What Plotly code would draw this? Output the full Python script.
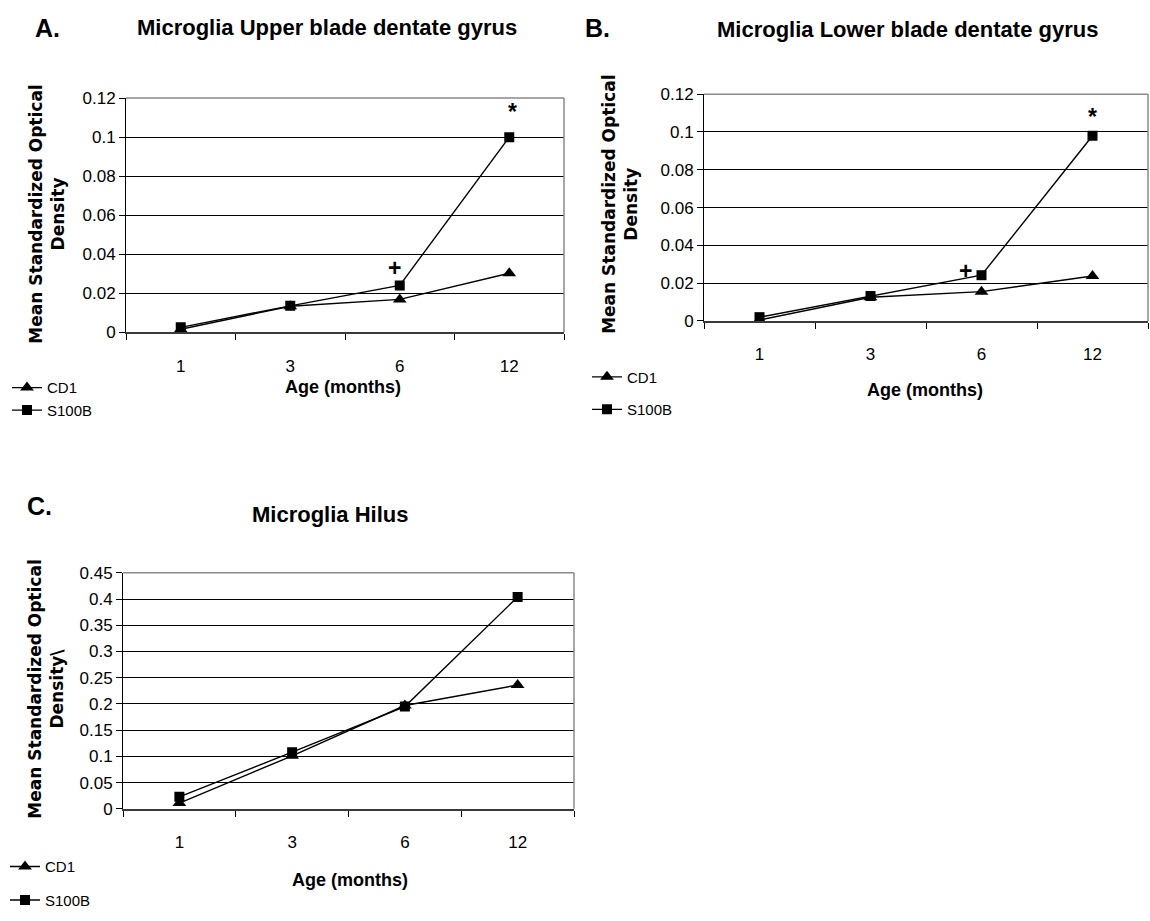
import plotly.graph_objects as go

# Age groups (months) shown on every x axis
ages = ["1", "3", "6", "12"]

# Mean standardized optical density per panel and strain
upper_cd1 = [0.0015, 0.0133, 0.0168, 0.0302]
upper_s100b = [0.0025, 0.0135, 0.0240, 0.1000]
lower_cd1 = [0.0005, 0.0125, 0.0155, 0.0238]
lower_s100b = [0.0020, 0.0132, 0.0242, 0.0980]
hilus_cd1 = [0.011, 0.101, 0.197, 0.236]
hilus_s100b = [0.023, 0.108, 0.195, 0.404]

W, H = 1150, 921
ARIAL = "Liberation Sans, Arial, sans-serif"
DEJAVU = "DejaVu Sans, Liberation Sans, Arial, sans-serif"


def px(x):
    return x / W


def py(y):
    return 1 - y / H


panels = [
    dict(key="", legend="legend", letter="A.", title="Microglia Upper blade dentate gyrus",
         cd1=upper_cd1, s100b=upper_s100b, xdom=(126, 564), ydom=(91, 330),
         yrange=(0, 0.12), dtick=0.02, ytitle="Mean Standardized Optical<br>Density",
         letter_xy=(47, 19), title_xy=(327, 19), ytitle_xy=(47, 210), xtitle_xy=(343, 386),
         legend_xy=(7, 370), gap=0, onegroup=True),
    dict(key="2", legend="legend2", letter="B.", title="Microglia Lower blade dentate gyrus",
         cd1=lower_cd1, s100b=lower_s100b, xdom=(704, 1148), ydom=(87, 318.5),
         yrange=(0, 0.12), dtick=0.02, ytitle="Mean Standardized Optical<br>Density",
         letter_xy=(597, 19), title_xy=(907, 21), ytitle_xy=(620, 200), xtitle_xy=(925, 389),
         legend_xy=(587, 359), gap=10, onegroup=False),
    dict(key="3", legend="legend3", letter="C.", title="Microglia Hilus",
         cd1=hilus_cd1, s100b=hilus_s100b, xdom=(123, 574), ydom=(575.7, 816.7),
         yrange=(0, 0.45), dtick=0.05, ytitle="Mean Standardized Optical<br>Density\\",
         letter_xy=(39, 507), title_xy=(330, 516), ytitle_xy=(46, 695), xtitle_xy=(350, 889),
         legend_xy=(5, 859), gap=11, onegroup=False),
]

fig = go.Figure()
layout = dict(
    width=W, height=H, margin=dict(l=0, r=0, t=0, b=0),
    paper_bgcolor="white", plot_bgcolor="white",
    showlegend=True, annotations=[], shapes=[],
)

for i, p in enumerate(panels):
    xa = "x" + p["key"]
    ya = "y" + p["key"]

    layout["xaxis" + p["key"]] = dict(
        domain=[px(p["xdom"][0]), px(p["xdom"][1])], anchor=ya,
        type="category", categoryorder="array", categoryarray=ages,
        range=[-0.5, 3.5], tickson="boundaries", ticks="outside", ticklen=6,
        tickcolor="black", tickwidth=1, showline=True, linecolor="#3a3a3a", linewidth=2,
        showgrid=False, zeroline=False, ticklabelstandoff=17,
        tickfont=dict(family=ARIAL, size=17, color="black"),
    )
    layout["yaxis" + p["key"]] = dict(
        domain=[py(p["ydom"][1]), py(p["ydom"][0])], anchor=xa,
        range=list(p["yrange"]), dtick=p["dtick"], tick0=0,
        ticks="outside", ticklen=6, tickcolor="black", tickwidth=1,
        showline=True, linecolor="black", linewidth=1,
        showgrid=True, gridcolor="black", gridwidth=1, zeroline=False,
        tickfont=dict(family=ARIAL, size=17, color="black"),
    )

    for name, vals, sym, size in [("CD1", p["cd1"], "triangle-up", 12),
                                  ("S100B", p["s100b"], "square", 10)]:
        group = f"g{i}" if p["onegroup"] else f"{name}{i}"
        fig.add_trace(go.Scatter(
            x=ages, y=vals, name=name, mode="lines+markers",
            xaxis=xa, yaxis=ya, legend=p["legend"], legendgroup=group,
            line=dict(color="black", width=1.4),
            marker=dict(symbol=sym, size=size, color="black"),
            hoverinfo="skip",
        ))

    layout[p["legend"]] = dict(
        x=px(p["legend_xy"][0]), y=py(p["legend_xy"][1]), xanchor="left", yanchor="top",
        bgcolor="rgba(0,0,0,0)", borderwidth=0, tracegroupgap=p["gap"],
        font=dict(family=ARIAL, size=15, color="black"), itemclick=False,
    )

    # grey plot-area frame on top and right
    layout["shapes"] += [
        dict(type="line", xref=f"{xa} domain", yref=f"{ya} domain", x0=0, x1=1, y0=1, y1=1,
             line=dict(color="#8a8a8a", width=1.5), layer="above"),
        dict(type="line", xref=f"{xa} domain", yref=f"{ya} domain", x0=1, x1=1, y0=0, y1=1,
             line=dict(color="#8a8a8a", width=1.5), layer="above"),
    ]

    common = dict(xref="paper", yref="paper", showarrow=False, xanchor="center", yanchor="middle")
    ann = layout["annotations"]
    ann.append(dict(text=f"<b>{p['letter']}</b>", x=px(p["letter_xy"][0]), y=py(p["letter_xy"][1]),
                    font=dict(family=ARIAL, size=25, color="black"), **common))
    ann.append(dict(text=f"<b>{p['title']}</b>", x=px(p["title_xy"][0]), y=py(p["title_xy"][1]),
                    font=dict(family=ARIAL, size=22, color="black"), **common))
    ann.append(dict(text=f"<b>{p['ytitle']}</b>", x=px(p["ytitle_xy"][0]), y=py(p["ytitle_xy"][1]),
                    textangle=-90, font=dict(family=DEJAVU, size=17, color="black"), **common))
    ann.append(dict(text="<b>Age (months)</b>", x=px(p["xtitle_xy"][0]), y=py(p["xtitle_xy"][1]),
                    font=dict(family=ARIAL, size=18, color="black"), **common))

# significance marks on the S100B series (x given as category index)
marks = [
    ("x", "y", "6", upper_s100b, "+", -5, 17),
    ("x", "y", "12", upper_s100b, "*", 3, 25),
    ("x2", "y2", "6", lower_s100b, "+", -16, 4),
    ("x2", "y2", "12", lower_s100b, "*", 0, 19),
]
for xr, yr, age, vals, sym, dx, dy in marks:
    k = ages.index(age)
    layout["annotations"].append(dict(
        text=f"<b>{sym}</b>", x=k, y=vals[k], xref=xr, yref=yr, showarrow=False,
        xanchor="center", yanchor="middle",
        xshift=dx, yshift=dy, font=dict(family=ARIAL, size=23, color="black")))

fig.update_layout(**layout)
fig.write_html("out.html")
